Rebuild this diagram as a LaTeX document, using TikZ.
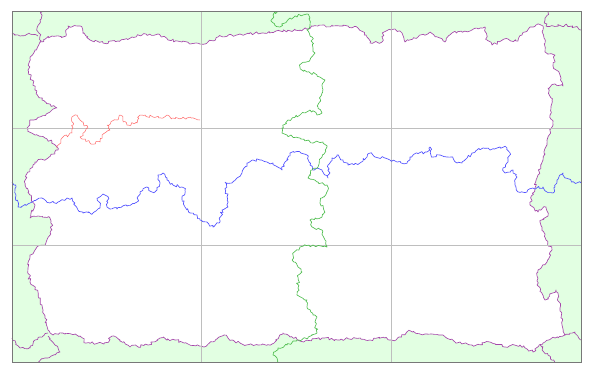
\documentclass[tikz,border=0pt]{standalone}
\usetikzlibrary{decorations.pathmorphing}
\definecolor{hullcol}{RGB}{165,70,170}
\definecolor{outside}{RGB}{226,255,226}
\definecolor{lrcol}{RGB}{80,80,255}
\definecolor{tbcol}{RGB}{80,190,80}
\definecolor{armcol}{RGB}{255,105,105}
\definecolor{gridcol}{RGB}{190,190,190}
\definecolor{framecol}{RGB}{120,120,120}

\begin{document}
\begin{tikzpicture}[x=1pt,y=-1pt,
  walk/.style={decorate,decoration={random steps,segment length=2.2pt,amplitude=1.5pt},
    line width=.65pt,line join=round},
  hull/.style={walk,draw=hullcol,fill=white},
  hullarm/.style={walk,draw=hullcol},
  crossLR/.style={walk,draw=lrcol},
  crossTB/.style={walk,draw=tbcol},
  arm/.style={walk,draw=armcol,line width=.5pt},
  gridline/.style={draw=gridcol,line width=.6pt}]
\pgfmathsetseed{4711}
\useasboundingbox (0,0) rectangle (593,375);

% box and cells
\fill[outside] (12,11.3) rectangle (581,362.7);

% cluster hull
\filldraw[hull] (40,42) -- (52,36) -- (66,36) -- (68,26) -- (80,26) -- (84,33) -- (90,40)
  -- (103,43) -- (118,41) -- (132,37) -- (146,34) -- (158,34) -- (168,40) -- (182,42)
  -- (196,43) -- (205,44) -- (218,37) -- (240,34) -- (262,33) -- (276,31) -- (300,30)
  -- (318,26) -- (340,26) -- (358,28) -- (366,35) -- (370,43) -- (382,42) -- (384,32)
  -- (395,29) -- (402,33) -- (405,42) -- (418,37) -- (430,32) -- (440,38) -- (445,42)
  -- (452,33) -- (470,31) -- (485,27) -- (487,40) -- (492,45) -- (508,39) -- (518,41)
  -- (522,35) -- (530,27) -- (536,25) -- (543,26)
  -- (544,38) -- (545,52) -- (555,55) -- (553,66) -- (560,75) -- (563,86) -- (555,84)
  -- (548,88) -- (552,100) -- (550,115) -- (553,125) -- (547,140) -- (543,160)
  -- (538,175) -- (535,188) -- (530,205) -- (538,212) -- (546,207) -- (548,216)
  -- (540,222) -- (546,240) -- (552,250) -- (547,262) -- (538,270) -- (537,285)
  -- (545,300) -- (556,290) -- (560,308) -- (562,325) -- (565,335) -- (555,338)
  -- (543,343) -- (533,352)
  -- (520,345) -- (505,347) -- (490,342) -- (472,345) -- (455,342) -- (440,335)
  -- (425,334) -- (408,331) -- (396,340) -- (385,338) -- (370,340) -- (355,338)
  -- (340,340) -- (322,338) -- (305,341) -- (290,337) -- (283,333) -- (272,344)
  -- (258,345) -- (242,344) -- (232,340) -- (224,335) -- (215,341) -- (204,347)
  -- (188,344) -- (175,340) -- (160,338) -- (148,345) -- (130,347) -- (120,340)
  -- (114,336) -- (104,344) -- (86,343) -- (80,336) -- (63,333) -- (53,335) -- (48,330)
  -- (45,318) -- (42,305) -- (38,292) -- (30,282) -- (28,268) -- (30,255) -- (37,247)
  -- (45,245) -- (52,230) -- (50,218) -- (38,216) -- (30,218) -- (35,205) -- (30,195)
  -- (25,185) -- (28,172) -- (35,162) -- (48,158) -- (58,150) -- (52,142) -- (45,138)
  -- (35,135) -- (28,130) -- (30,120) -- (40,117) -- (50,112) -- (57,108) -- (50,104)
  -- (42,100) -- (35,90) -- (32,80) -- (28,70) -- (30,58) -- (35,50) -- cycle;

% grid
\foreach \gx in {201.7,391.3}
  \draw[gridline] (\gx,11.3) -- (\gx,362.7);
\foreach \gy in {128.4,245.5}
  \draw[gridline] (12,\gy) -- (581,\gy);

% hull pieces reaching the box
\draw[hullarm] (42,12) -- (40,20) -- (37,28) -- (40,36) -- (40,42);
\draw[hullarm] (12,33) -- (20,36) -- (30,34) -- (38,36);
\draw[hullarm] (12,338) -- (20,348) -- (30,348) -- (35,340) -- (48,333);
\draw[hullarm] (48,336) -- (55,345) -- (60,352) -- (45,358) -- (38,362.7);
\draw[hullarm] (548,12) -- (545,20) -- (546,26) -- (565,25) -- (575,27) -- (581,30);
\draw[hullarm] (565,335) -- (575,332) -- (581,340);
\draw[hullarm] (540,345) -- (548,355) -- (555,362.7);

% left-right crossing
\draw[crossLR] (12,182) -- (16,187) -- (16,195) -- (18,207) -- (30,203) -- (42,198)
  -- (50,203) -- (58,202) -- (67,198) -- (72,198) -- (78,210) -- (83,213) -- (93,213)
  -- (100,208) -- (98,198) -- (103,194) -- (108,197) -- (107,207) -- (117,209)
  -- (127,206) -- (137,202) -- (140,192) -- (147,187) -- (152,192) -- (157,190)
  -- (160,183) -- (158,175) -- (163,173) -- (167,180) -- (173,185) -- (182,187)
  -- (185,190) -- (182,198) -- (185,207) -- (190,213) -- (197,215) -- (200,220)
  -- (207,222) -- (213,227) -- (220,222) -- (222,210) -- (228,207) -- (227,197)
  -- (225,182) -- (232,183) -- (237,178) -- (242,173) -- (247,163) -- (253,160)
  -- (260,160) -- (267,162) -- (273,163) -- (280,168) -- (282,170) -- (285,162)
  -- (290,153) -- (300,152) -- (307,155) -- (310,165) -- (313,170) -- (317,168)
  -- (322,170) -- (325,175) -- (328,178) -- (330,173) -- (328,165) -- (332,158)
  -- (337,155) -- (343,160) -- (348,165) -- (360,163) -- (367,157) -- (370,153)
  -- (375,157) -- (383,157) -- (390,160) -- (397,162) -- (407,163) -- (410,157)
  -- (417,153) -- (427,152) -- (430,147) -- (433,157) -- (440,155) -- (447,157)
  -- (453,158) -- (457,163) -- (462,163) -- (467,158) -- (472,153) -- (477,150)
  -- (483,148) -- (490,150) -- (497,148) -- (500,147) -- (507,148) -- (510,153)
  -- (508,162) -- (503,168) -- (505,173) -- (513,170) -- (517,177) -- (515,183)
  -- (518,192) -- (527,192) -- (533,188) -- (543,187) -- (547,192) -- (553,193)
  -- (555,187) -- (557,180) -- (563,173) -- (565,178) -- (572,182) -- (581,183);

% top-bottom crossing
\draw[crossTB] (278,11.3) -- (273,15) -- (272,22) -- (280,27) -- (285,23) -- (290,18)
  -- (297,17) -- (300,15) -- (307,14) -- (310,18) -- (310,25) -- (307,30) -- (312,37)
  -- (313,48) -- (315,53) -- (310,60) -- (302,63) -- (300,67) -- (307,72) -- (317,75)
  -- (325,80) -- (322,85) -- (322,93) -- (318,107) -- (322,113) -- (317,115)
  -- (310,110) -- (300,115) -- (288,120) -- (282,128) -- (282,133) -- (287,135)
  -- (300,138) -- (313,143) -- (323,142) -- (327,147) -- (322,157) -- (318,167)
  -- (312,170) -- (308,178) -- (318,182) -- (327,185) -- (328,190) -- (322,198)
  -- (320,203) -- (325,212) -- (322,217) -- (310,220) -- (312,227) -- (322,230)
  -- (325,240) -- (327,247) -- (313,245) -- (300,247) -- (293,255) -- (292,260)
  -- (298,267) -- (302,272) -- (298,277) -- (298,288) -- (297,295) -- (307,300)
  -- (307,307) -- (313,315) -- (317,317) -- (315,322) -- (317,333) -- (308,338)
  -- (297,340) -- (287,345) -- (278,348) -- (273,355) -- (277,358) -- (277,362.7);

% arm from the hull
\draw[arm] (57,148) -- (62,138) -- (72,133) -- (73,125) -- (72,117) -- (77,115)
  -- (80,120) -- (88,128) -- (80,137) -- (90,143) -- (100,142) -- (102,135)
  -- (110,130) -- (107,125) -- (117,120) -- (120,115) -- (127,125) -- (137,123)
  -- (140,115) -- (153,117) -- (163,118) -- (167,115) -- (172,118) -- (187,118)
  -- (200,120);

\draw[framecol,line width=.7pt] (12,11.3) rectangle (581,362.7);
\end{tikzpicture}
\end{document}
